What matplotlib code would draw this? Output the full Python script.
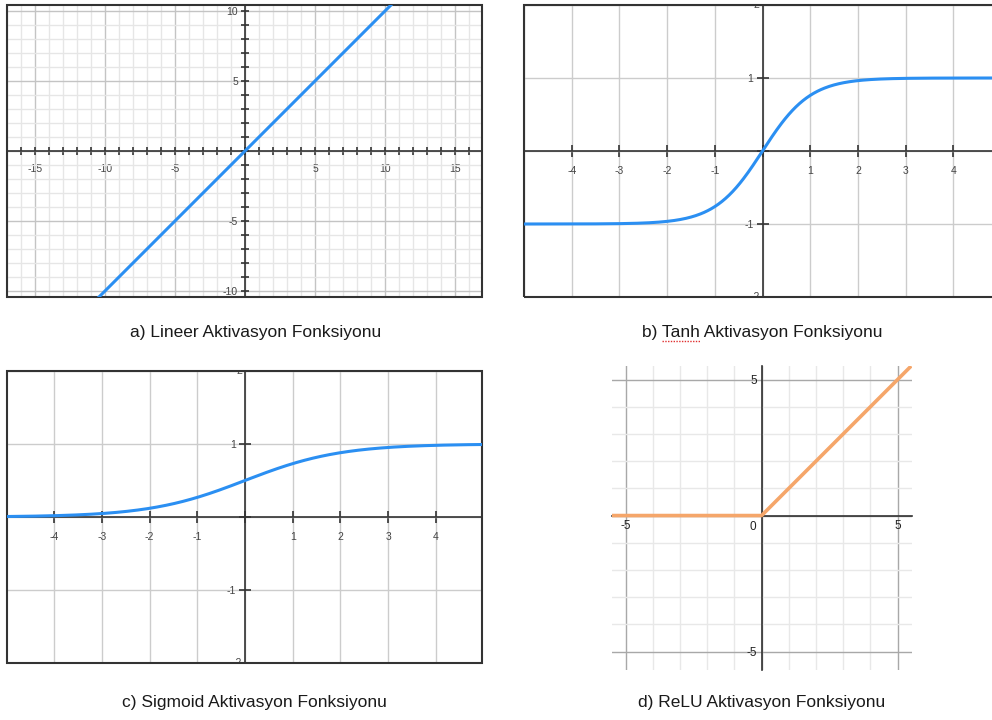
import numpy as np
import matplotlib.pyplot as plt
from matplotlib.patches import Rectangle
from matplotlib.lines import Line2D
from matplotlib.ticker import MultipleLocator, FuncFormatter

plt.rcParams['font.family'] = ['Liberation Sans', 'DejaVu Sans']

W, H = 992, 720

# x ranges for each activation function
lin_x = np.array([-17.0, 17.0])
tanh_x = np.linspace(-5, 5, 401)
sig_x = np.linspace(-5, 5, 401)
relu_x = np.array([-5.5, 0.0, 5.5])

captions = ['a) Lineer Aktivasyon Fonksiyonu', 'b) Tanh Aktivasyon Fonksiyonu',
            'c) Sigmoid Aktivasyon Fonksiyonu', 'd) ReLU Aktivasyon Fonksiyonu']

BLUE = '#2b8ff2'
ORANGE = '#f5a66a'
DARK = '#333333'
CAP_SIZE = 12.5

fig = plt.figure(figsize=(W / 100, H / 100), dpi=100)


def px_axes(x0, y0, x1, y1):
    # place an axes using pixel coordinates measured from the top-left
    return fig.add_axes([x0 / W, 1 - y1 / H, (x1 - x0) / W, (y1 - y0) / H])


def centre_axes(ax, ticklen, box=True):
    for s in ['top', 'right']:
        ax.spines[s].set_visible(False)
    for s in ['left', 'bottom']:
        ax.spines[s].set_position(('data', 0))
        ax.spines[s].set_color(DARK)
        ax.spines[s].set_linewidth(1.2)
        ax.spines[s].set_zorder(3)
    ax.tick_params(which='both', direction='inout', length=ticklen, width=1.2,
                   color=DARK, labelsize=7.5, labelcolor='#444444')
    ax.tick_params(axis='x', pad=6)
    ax.tick_params(axis='y', pad=2)
    if box:
        ax.add_patch(Rectangle((0, 0), 1, 1, transform=ax.transAxes, fill=False,
                               ec=DARK, lw=1.5, zorder=4, clip_on=False))


def label_fmt(skip):
    return FuncFormatter(lambda v, p: '' if round(v) in skip else f'{v:g}')


# a) linear
ax = px_axes(7, 5, 482, 297)
ax.set_xlim(-17, 16.93)
ax.set_ylim(-10.43, 10.43)
centre_axes(ax, 6)
for axis in (ax.xaxis, ax.yaxis):
    axis.set_major_locator(MultipleLocator(5))
    axis.set_minor_locator(MultipleLocator(1))
    axis.set_major_formatter(label_fmt([0]))
ax.grid(which='major', color='#c4c4c4', lw=1)
ax.grid(which='minor', color='#e6e6e6', lw=1)
ax.set_axisbelow(True)
ax.plot(lin_x, lin_x, color=BLUE, lw=2.2, zorder=5)


def sigmoid_style(ax):
    centre_axes(ax, 9)
    ax.xaxis.set_major_locator(MultipleLocator(1))
    ax.yaxis.set_major_locator(MultipleLocator(1))
    ax.xaxis.set_major_formatter(label_fmt([0, 5, -5]))
    ax.yaxis.set_major_formatter(label_fmt([0, 2, -2]))
    ax.grid(color='#cccccc', lw=1)
    ax.set_axisbelow(True)
    # edge labels cut by the frame
    ax.text(-0.06, 2, '2', ha='right', va='center', fontsize=7.5, color='#444444', clip_on=True)
    ax.text(-0.06, -2, '-2', ha='right', va='center', fontsize=7.5, color='#444444', clip_on=True)


# b) tanh
ax = px_axes(524, 5, 1001, 297)
ax.set_xlim(-5, 5)
ax.set_ylim(-2, 2)
sigmoid_style(ax)
ax.plot(tanh_x, np.tanh(tanh_x), color=BLUE, lw=2.2, zorder=5)

# c) sigmoid
ax = px_axes(7, 371, 482, 663)
ax.set_xlim(-4.99, 4.97)
ax.set_ylim(-2, 2)
sigmoid_style(ax)
ax.plot(sig_x, 1 / (1 + np.exp(-sig_x)), color=BLUE, lw=2.2, zorder=5)

# d) relu
ax = px_axes(612, 366, 912, 670)
ax.set_xlim(-5.5, 5.53)
ax.set_ylim(-5.68, 5.5)
centre_axes(ax, 0, box=False)
ax.tick_params(labelsize=8.5, labelcolor='#222222', pad=3)
for axis in (ax.xaxis, ax.yaxis):
    axis.set_major_locator(MultipleLocator(5))
    axis.set_minor_locator(MultipleLocator(1))
    axis.set_major_formatter(label_fmt([0]))
ax.grid(which='major', color='#a8a8a8', lw=1)
ax.grid(which='minor', color='#e8e8e8', lw=1)
ax.set_axisbelow(True)
ax.text(-0.2, -0.2, '0', ha='right', va='top', fontsize=8.5, color='#222222')
ax.plot(relu_x, np.maximum(relu_x, 0), color=ORANGE, lw=2.6, zorder=5,
        solid_capstyle='butt')

# captions under each panel
cap_pos = [(256, 337), (762, 337), (254, 707), (762, 707)]
cap_texts = []
for (cx, cy), txt in zip(cap_pos, captions):
    cap_texts.append(fig.text(cx / W, 1 - cy / H, txt, ha='center', va='baseline',
                              fontsize=CAP_SIZE, color='#1a1a1a'))

# spell-check underline beneath "Tanh"
renderer = fig.canvas.get_renderer()
x_start = cap_texts[1].get_window_extent(renderer).x0


def text_width(s):
    t = fig.text(0, 0, s, fontsize=CAP_SIZE)
    w = t.get_window_extent(renderer).width
    t.remove()
    return w


end = x_start + text_width('b) Tanh')
start = end - text_width('Tanh')
uy = 1 - 340.5 / H
fig.add_artist(Line2D([start / W, end / W], [uy, uy], color='#e03030', lw=1, ls=(0, (1, 1))))

fig.savefig('out.png', dpi=100)
